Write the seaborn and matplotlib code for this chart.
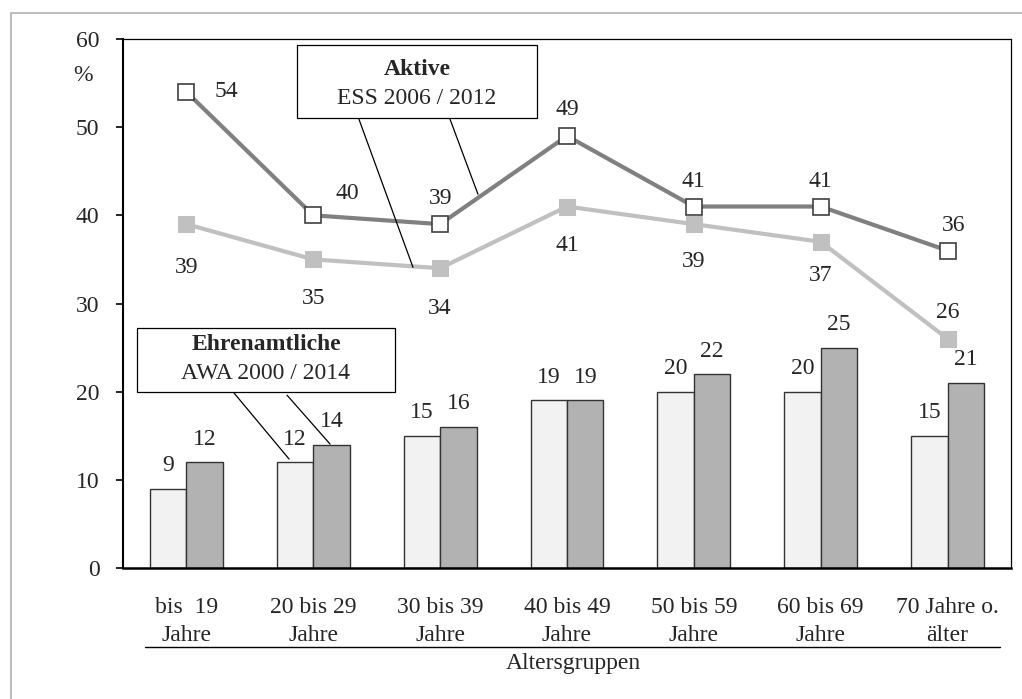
import numpy as np
import pandas as pd
import matplotlib.pyplot as plt
import seaborn as sns
from matplotlib.patches import Rectangle
from matplotlib.lines import Line2D

# Data
categories = ['bis  19\nJahre', '20 bis 29\nJahre', '30 bis 39\nJahre', '40 bis 49\nJahre',
              '50 bis 59\nJahre', '60 bis 69\nJahre', '70 Jahre o.\nälter']
ehrenamt_2000 = [9, 12, 15, 19, 20, 20, 15]
ehrenamt_2014 = [12, 14, 16, 19, 22, 25, 21]
aktive_2012 = [54, 40, 39, 49, 41, 41, 36]
aktive_2006 = [39, 35, 34, 41, 39, 37, 26]
yticks = [0, 10, 20, 30, 40, 50, 60]

sns.set_style('white')
plt.rcParams['font.family'] = ['Liberation Serif', 'DejaVu Serif']
plt.rcParams['font.size'] = 17

W, H = 1022, 699
fig = plt.figure(figsize=(W / 100, H / 100), dpi=100)
ax = fig.add_axes([123 / W, 1 - 568 / H, (1011 - 123) / W, (568 - 39) / H])

# Bars
df = pd.DataFrame({
    'cat': categories * 2,
    'val': ehrenamt_2000 + ehrenamt_2014,
    'year': ['2000'] * 7 + ['2014'] * 7,
})
sns.barplot(data=df, x='cat', y='val', hue='year', order=categories,
            hue_order=['2000', '2014'], palette=['#f2f2f2', '#b2b2b2'],
            width=0.575, gap=0, edgecolor='#333333', linewidth=1.0,
            legend=False, ax=ax)

xs = np.arange(len(categories))
bw = 0.575 / 2
for i in xs:
    ax.annotate(str(ehrenamt_2000[i]), (i - bw / 2, ehrenamt_2000[i]), xytext=(0, 23),
                textcoords='offset pixels', ha='center', va='center')
    ax.annotate(str(ehrenamt_2014[i]), (i + bw / 2, ehrenamt_2014[i]), xytext=(0, 23),
                textcoords='offset pixels', ha='center', va='center')

# Lines
sns.lineplot(x=xs, y=aktive_2006, color='#c0c0c0', lw=3.0, marker='s', markersize=11,
             markerfacecolor='#c0c0c0', markeredgecolor='#c0c0c0', ax=ax, zorder=3)
sns.lineplot(x=xs, y=aktive_2012, color='#808080', lw=3.0, marker='s', markersize=11.5,
             markerfacecolor='white', markeredgecolor='#404040', markeredgewidth=1.2,
             ax=ax, zorder=4)

off_2012 = [(40, 0), (34, 22), (0, 26), (0, 26), (0, 25), (0, 25), (6, 25)]
off_2006 = [(0, -43), (0, -39), (0, -40), (0, -39), (0, -37), (0, -34), (0, 26)]
for i in xs:
    ax.annotate(str(aktive_2012[i]), (i, aktive_2012[i]), xytext=off_2012[i],
                textcoords='offset pixels', ha='center', va='center')
    ax.annotate(str(aktive_2006[i]), (i, aktive_2006[i]), xytext=off_2006[i],
                textcoords='offset pixels', ha='center', va='center')

# Annotation boxes
ax.add_patch(Rectangle((0.872, 51.0), 2.763 - 0.872, 59.3 - 51.0, facecolor='white',
                       edgecolor='black', lw=0.9, zorder=5))
ax.text(1.818, 56.5, 'Aktive', ha='center', va='center', fontweight='bold', zorder=6)
ax.text(1.818, 53.3, 'ESS 2006 / 2012', ha='center', va='center', zorder=6)
ax.plot([1.360, 1.786], [50.9, 34.1], color='black', lw=0.9, zorder=5)
ax.plot([2.078, 2.298], [50.9, 42.4], color='black', lw=0.9, zorder=5)

ax.add_patch(Rectangle((-0.39, 20.0), 1.644 + 0.39, 27.2 - 20.0, facecolor='white',
                       edgecolor='black', lw=0.9, zorder=5))
ax.text(0.627, 25.3, 'Ehrenamtliche', ha='center', va='center', fontweight='bold', zorder=6)
ax.text(0.627, 22.1, 'AWA 2000 / 2014', ha='center', va='center', zorder=6)
ax.plot([0.375, 0.809], [19.85, 12.36], color='black', lw=0.9, zorder=5)
ax.plot([0.793, 1.132], [19.6, 14.06], color='black', lw=0.9, zorder=5)

# Axes styling
ax.set_xlim(-0.5, len(categories) - 0.5)
ax.set_ylim(0, 60)
ax.set_yticks(yticks)
ax.set_xticks(xs, categories)
ax.set_xticks(np.arange(len(categories) + 1) - 0.5, minor=True)
ax.tick_params(axis='x', which='major', length=0, pad=21)
ax.tick_params(axis='x', which='minor', length=5, width=1.2, direction='out', color='black')
ax.tick_params(axis='y', length=5, width=1.2, direction='out', color='black', pad=12, left=True)
ax.set_xlabel('')
ax.set_ylabel('')
for lbl in ax.get_xticklabels():
    lbl.set_linespacing(1.4)
for side, w in [('left', 1.5), ('bottom', 1.8), ('top', 0.9), ('right', 0.9)]:
    ax.spines[side].set_visible(True)
    ax.spines[side].set_color('black')
    ax.spines[side].set_linewidth(w)
ax.text(-0.034, 55.9, '%', transform=ax.get_yaxis_transform(), ha='right', va='center')

# Axis title with line above
fig.add_artist(Line2D([145 / W, 1000 / W], [1 - 647 / H, 1 - 647 / H], color='black', lw=1.0))
fig.text(573 / W, 1 - 663 / H, 'Altersgruppen', ha='center', va='center')

# Figure frame (left and top)
fig.add_artist(Line2D([10.5 / W, 10.5 / W, 1.0], [0, 1 - 12.5 / H, 1 - 12.5 / H],
                      color='#b0b0b0', lw=1.2))

fig.savefig('out.png', dpi=100)
